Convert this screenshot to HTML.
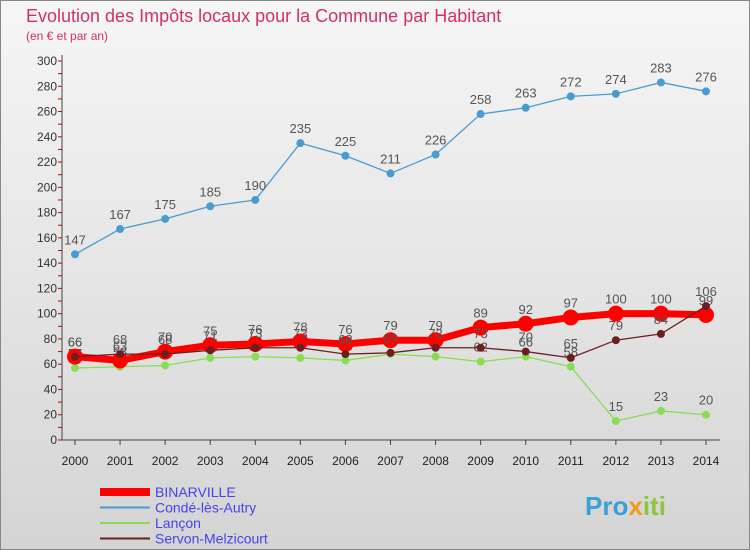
<!DOCTYPE html>
<html><head><meta charset="utf-8"><style>
body{margin:0;width:750px;height:550px;overflow:hidden;font-family:"Liberation Sans",sans-serif;}
</style></head><body>
<svg width="750" height="550" style="display:block">
<defs><linearGradient id="bg" x1="0" y1="0" x2="0" y2="1"><stop offset="0" stop-color="#f6f6f6"/><stop offset="1" stop-color="#d4d4d4"/></linearGradient></defs>
<rect x="0.5" y="0.5" width="749" height="549" fill="url(#bg)" stroke="#888"/>
<text x="26" y="22" font-size="18" fill="#d0306e">Evolution des Impôts locaux pour la Commune par Habitant</text>
<text x="26" y="40" font-size="12" fill="#d0306e">(en € et par an)</text>
<g id="axes"></g><g id="series"></g><g id="legend"></g>
<text x="585" y="515" font-size="26" font-weight="bold" fill="#3aa0d8">Pro<tspan fill="#f39a1e">x</tspan><tspan fill="#8cc63f">iti</tspan></text>
</svg>
<script>
const years=[2000,2001,2002,2003,2004,2005,2006,2007,2008,2009,2010,2011,2012,2013,2014];
const yTicks=[0,20,40,60,80,100,120,140,160,180,200,220,240,260,280,300];
const binarville=[66,63,70,75,76,78,76,79,79,89,92,97,100,100,99];
const conde=[147,167,175,185,190,235,225,211,226,258,263,272,274,283,276];
const lancon=[57,58,59,65,66,65,63,68,66,62,66,58,15,23,20];
const servon=[66,68,68,71,73,73,68,69,73,73,70,65,79,84,106];
const NS="http://www.w3.org/2000/svg";
const xS=i=>75+i*(706-75)/14;
const yS=v=>440-v*(440-61)/300;
function mk(t,a,p){const e=document.createElementNS(NS,t);for(const k in a)e.setAttribute(k,a[k]);p.appendChild(e);return e;}
const ax=document.getElementById('axes');
yTicks.forEach(v=>{
 const t=mk('text',{x:57,y:yS(v)+4,'font-size':12,'text-anchor':'end',fill:'#333'},ax);t.textContent=v;
 
 
 mk('line',{x1:58,x2:62,y1:yS(v),y2:yS(v),stroke:'#c00'},ax);
 if(v<300)mk('line',{x1:58,x2:62,y1:yS(v+10),y2:yS(v+10),stroke:'#c00'},ax);
});
mk('line',{x1:62,x2:62,y1:55,y2:440,stroke:'#444'},ax);
mk('line',{x1:62,x2:720,y1:440,y2:440,stroke:'#444'},ax);
years.forEach((y,i)=>{
 mk('line',{x1:xS(i),x2:xS(i),y1:440,y2:445,stroke:'#444'},ax);
 const t=mk('text',{x:xS(i),y:465,'font-size':12,'text-anchor':'middle',fill:'#222'},ax);t.textContent=y;
 
 
});
const sg=document.getElementById('series');
function series(name,data,color,w,r,fill){
 const pts=data.map((v,i)=>xS(i)+','+yS(v)).join(' ');
 const l=mk('polyline',{points:pts,fill:'none',stroke:color,'stroke-width':w},sg);
 
 
 data.forEach((v,i)=>{
  const c=mk('circle',{cx:xS(i),cy:yS(v),r:r,fill:fill,stroke:color,'stroke-width':1},sg);
  
  
  const t=mk('text',{x:xS(i),y:yS(v)-10,'font-size':13,'text-anchor':'middle',fill:'#555'},sg);t.textContent=v;
  
  
 });
}
series('conde',conde,'#4a9bd0',1.3,3.5,'#4a9bd0');
series('lancon',lancon,'#88dd55',1.3,3.5,'#88dd55');
series('binarville',binarville,'#ff0000',7,7.5,'#ff0000');
series('servon',servon,'#6b1f1f',1.3,3.5,'#6b1f1f');
const lg=document.getElementById('legend');
const items=[['BINARVILLE','#ff0000',8],['Condé-lès-Autry','#4a9bd0',2],['Lançon','#88dd55',2],['Servon-Melzicourt','#6b1f1f',2]];
items.forEach((it,i)=>{
 const y=492+i*15.5;
 mk('line',{x1:100,x2:150,y1:y,y2:y,stroke:it[1],'stroke-width':it[2]},lg);
 const t=mk('text',{x:155,y:y+5,'font-size':14,fill:'#4444ee'},lg);t.textContent=it[0];
 
 
});
</script>
</body></html>
